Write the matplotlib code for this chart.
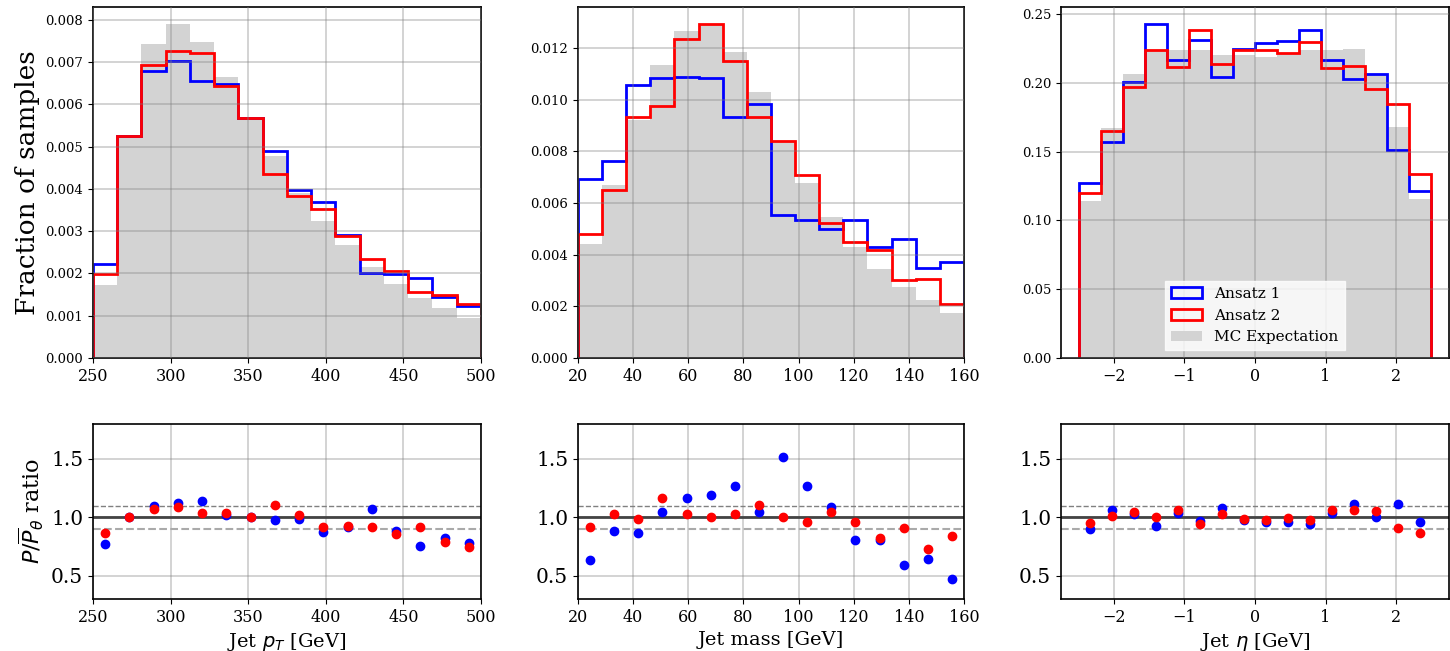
import numpy as np
import matplotlib
matplotlib.use("Agg")
import matplotlib.pyplot as plt
from matplotlib.patches import Patch

plt.rcParams['font.family'] = ['DejaVu Serif']

# Histogram binning (16 bins each)
pt_edges = np.linspace(250, 500, 17)
mass_edges = np.linspace(20, 160, 17)
eta_edges = np.linspace(-2.5, 2.5, 17)

# Jet pT: fraction of samples per bin
pt_mc = [0.00172, 0.00525, 0.00742, 0.00790, 0.00748, 0.00664, 0.00568, 0.00478,
         0.00391, 0.00324, 0.00267, 0.00215, 0.00175, 0.00143, 0.00118, 0.00095]
pt_ans1 = [0.00223, 0.00526, 0.00678, 0.00702, 0.00655, 0.00649, 0.00568, 0.00489,
           0.00398, 0.00370, 0.00290, 0.00201, 0.00198, 0.00190, 0.00144, 0.00122]
pt_ans2 = [0.00199, 0.00524, 0.00692, 0.00725, 0.00721, 0.00642, 0.00568, 0.00434,
           0.00382, 0.00353, 0.00288, 0.00235, 0.00205, 0.00156, 0.00150, 0.00127]

# Jet mass
mass_mc = [0.00440, 0.00671, 0.00920, 0.01135, 0.01267, 0.01292, 0.01187, 0.01030,
           0.00839, 0.00678, 0.00545, 0.00431, 0.00346, 0.00274, 0.00224, 0.00174]
mass_ans1 = [0.00692, 0.00763, 0.01059, 0.01084, 0.01090, 0.01084, 0.00935, 0.00982,
             0.00552, 0.00533, 0.00500, 0.00533, 0.00430, 0.00462, 0.00350, 0.00372]
mass_ans2 = [0.00481, 0.00652, 0.00935, 0.00975, 0.01234, 0.01294, 0.01152, 0.00935,
             0.00839, 0.00707, 0.00523, 0.00449, 0.00419, 0.00301, 0.00307, 0.00208]

# Jet eta
eta_mc = [0.1140, 0.1670, 0.2065, 0.2240, 0.2240, 0.2240, 0.2200, 0.2200,
          0.2190, 0.2205, 0.2240, 0.2240, 0.2245, 0.2065, 0.1677, 0.1158]
eta_ans1 = [0.1270, 0.1570, 0.2004, 0.2427, 0.2165, 0.2311, 0.2040, 0.2246,
            0.2287, 0.2302, 0.2384, 0.2166, 0.2023, 0.2060, 0.1508, 0.1212]
eta_ans2 = [0.1200, 0.1650, 0.1968, 0.2234, 0.2115, 0.2384, 0.2137, 0.2234,
            0.2234, 0.2214, 0.2294, 0.2108, 0.2118, 0.1956, 0.1847, 0.1338]

panels = [
    (pt_edges, pt_mc, pt_ans1, pt_ans2, r'Jet $p_T$ [GeV]', (250, 500)),
    (mass_edges, mass_mc, mass_ans1, mass_ans2, 'Jet mass [GeV]', (20, 160)),
    (eta_edges, eta_mc, eta_ans1, eta_ans2, r'Jet $\eta$ [GeV]', None),
]

fig = plt.figure(figsize=(14.5, 6.51), dpi=100)

lefts = [0.0641, 0.3986, 0.7317]
widths = [0.2676, 0.2662, 0.2676]

for i, (edges, mc, a1, a2, xlabel, xlim) in enumerate(panels):
    mc = np.array(mc)
    a1 = np.array(a1)
    a2 = np.array(a2)
    centers = 0.5 * (edges[:-1] + edges[1:])

    # top: histograms
    ax = fig.add_axes([lefts[i], 0.450, widths[i], 0.539])
    ax.stairs(mc, edges, fill=True, color='#d3d3d3')
    ax.stairs(a1, edges, color='blue', lw=2)
    ax.stairs(a2, edges, color='red', lw=2)
    ax.set_axisbelow(False)
    ax.grid(True, color='gray', alpha=0.4, lw=1.2)
    ax.tick_params(axis='y', labelsize=9.5)
    ax.tick_params(axis='x', labelsize=11.5)
    if xlim is not None:
        ax.set_xlim(*xlim)
    for s in ax.spines.values():
        s.set_linewidth(1.2)
    if i == 0:
        ax.set_ylabel('Fraction of samples', fontsize=19)
    if i == 2:
        handles = [Patch(facecolor='none', edgecolor='blue', lw=2),
                   Patch(facecolor='none', edgecolor='red', lw=2),
                   Patch(facecolor='#d3d3d3', edgecolor='none')]
        ax.legend(handles, ['Ansatz 1', 'Ansatz 2', 'MC Expectation'],
                  loc='lower center', fontsize=11, fancybox=False,
                  framealpha=0.8, edgecolor='white')

    # bottom: ratio MC / model
    axr = fig.add_axes([lefts[i], 0.0799, widths[i], 0.269])
    axr.grid(True, color='gray', alpha=0.4, lw=1.2)
    axr.axhline(1.0, color='#444444', lw=2)
    axr.axhline(1.1, color='gray', lw=1, ls='--')
    axr.axhline(0.9, color='#aaaaaa', lw=1.5, ls='--')
    axr.plot(centers, mc / a1, 'o', color='blue', ms=6)
    axr.plot(centers, mc / a2, 'o', color='red', ms=6)
    axr.set_ylim(0.3, 1.8)
    axr.set_yticks([0.5, 1.0, 1.5])
    if xlim is not None:
        axr.set_xlim(*xlim)
    else:
        axr.set_xlim(ax.get_xlim())
    axr.tick_params(axis='y', labelsize=14.5)
    axr.tick_params(axis='x', labelsize=11.5)
    for s in axr.spines.values():
        s.set_linewidth(1.2)
    axr.set_xlabel(xlabel, fontsize=14)
    if i == 0:
        axr.set_ylabel(r'$P/\overline{P}_{\theta}$ ratio', fontsize=16)

fig.savefig('out.png', dpi=100)
